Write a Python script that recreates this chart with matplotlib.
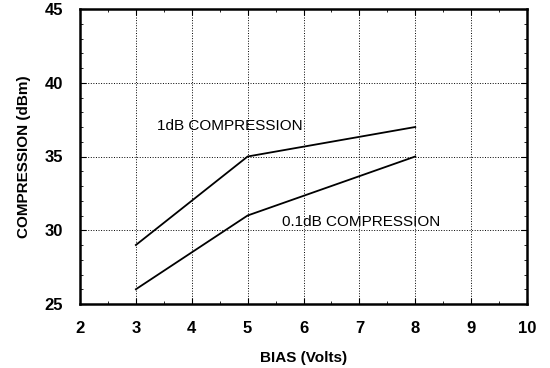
import matplotlib
matplotlib.use('Agg')
import matplotlib.pyplot as plt
from matplotlib.ticker import MultipleLocator

plt.rcParams['font.family'] = ['Liberation Sans', 'DejaVu Sans']

# Bias voltage points
bias = [3, 5, 8]
# Compression levels (dBm)
comp_1db = [29, 35, 37]
comp_01db = [26, 31, 35]

fig = plt.figure(figsize=(5.5, 3.68), dpi=100)
ax = fig.add_axes([80 / 550, 1 - 304 / 368, 447 / 550, 295 / 368])

ax.plot(bias, comp_1db, color='black', lw=1.3)
ax.plot(bias, comp_01db, color='black', lw=1.3)

ax.text(3.38, 37.07, '1dB COMPRESSION', fontsize=11, va='center', ha='left')
ax.text(5.61, 30.56, '0.1dB COMPRESSION', fontsize=11, va='center', ha='left')

ax.set_xlim(2, 10)
ax.set_ylim(25, 45)
ax.xaxis.set_major_locator(MultipleLocator(1))
ax.yaxis.set_major_locator(MultipleLocator(5))
ax.xaxis.set_minor_locator(MultipleLocator(0.5))
ax.yaxis.set_minor_locator(MultipleLocator(1))
ax.tick_params(which='both', direction='in', top=True, right=True)
ax.tick_params(which='major', length=4, width=0.8, labelsize=12, pad=12)
ax.tick_params(which='minor', length=2.5, width=0.6)
for lab in ax.get_xticklabels() + ax.get_yticklabels():
    lab.set_fontweight('bold')

ax.grid(True, which='major', linestyle=':', color='black', lw=0.7)

for sp in ax.spines.values():
    sp.set_linewidth(1.8)

ax.set_xlabel('BIAS (Volts)', fontsize=11, fontweight='bold', labelpad=11)
ax.set_ylabel('COMPRESSION (dBm)', fontsize=11, fontweight='bold', labelpad=10)

fig.savefig('out.png', dpi=100)
